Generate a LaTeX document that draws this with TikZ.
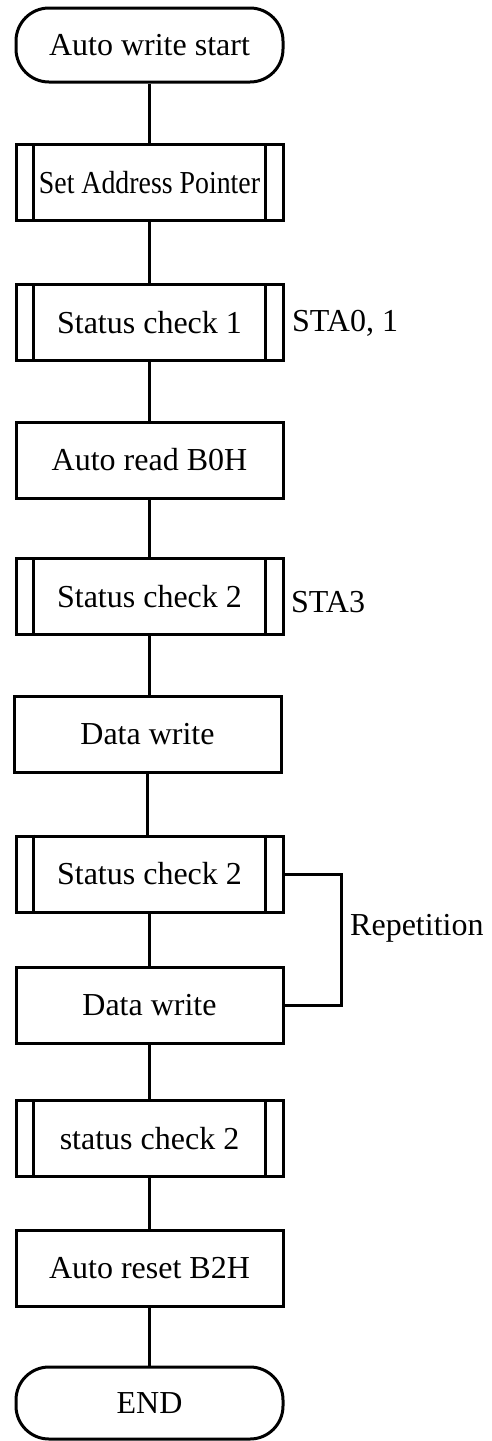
\documentclass[tikz,border=0pt]{standalone}
\usepackage{fontspec}
\setmainfont{Liberation Serif}
\begin{document}
\begin{tikzpicture}[x=1pt,y=-1pt,
  every node/.style={font=\fontsize{32}{38}\selectfont},
  box/.style={draw,line width=3pt,minimum width=267pt,minimum height=76pt,inner sep=0pt},
  term/.style={box,rounded corners=33pt,minimum height=74pt},
  link/.style={line width=3pt},
  lbl/.style={anchor=west,inner sep=0pt}]
\useasboundingbox (0,0) rectangle (491,1441);
\node[term] (start) at (149.5,45) {Auto write start};
\node[box] (sap) at (149.5,182.5) {\scalebox{0.87}[1]{Set Address Pointer}};
\node[box] (sc1) at (149.5,322.5) {Status check 1};
\node[box] (arb) at (149.5,460) {Auto read B0H};
\node[box] (sc2a) at (149.5,596.5) {Status check 2};
\node[box] (dw1) at (147.5,734.5) {Data write};
\node[box] (sc2b) at (149.5,874) {Status check 2};
\node[box] (dw2) at (149.5,1005) {Data write};
\node[box] (sc2c) at (149.5,1138.5) {status check 2};
\node[box] (ars) at (149.5,1268) {Auto reset B2H};
\node[term,minimum height=72pt] (end) at (149.5,1403) {END};
\foreach \n in {sap,sc1,sc2a,sc2b,sc2c}{
  \draw[link] ([xshift=18.5pt]\n.north west) -- ([xshift=18.5pt]\n.south west);
  \draw[link] ([xshift=-19pt]\n.north east) -- ([xshift=-19pt]\n.south east);
}
\draw[link] (start) -- (sap);
\draw[link] (sap) -- (sc1);
\draw[link] (sc1) -- (arb);
\draw[link] (arb) -- (sc2a);
\draw[link] (sc2a.south) -- (sc2a.south |- dw1.north);
\draw[link] (dw1.south) -- (dw1.south |- sc2b.north);
\draw[link] (sc2b) -- (dw2);
\draw[link] (dw2) -- (sc2c);
\draw[link] (sc2c) -- (ars);
\draw[link] (ars) -- (end);
\coordinate (rx) at (341,0);
\draw[link] (sc2b.east) -- (sc2b.east -| rx) -- (dw2.east -| rx) -- (dw2.east);
\node[lbl] (rep) at (350,928) {Repetition};
\node[lbl] (sta01) at (292,323) {STA0, 1};
\node[lbl] (sta3) at (291,602) {STA3};
\end{tikzpicture}
\end{document}
